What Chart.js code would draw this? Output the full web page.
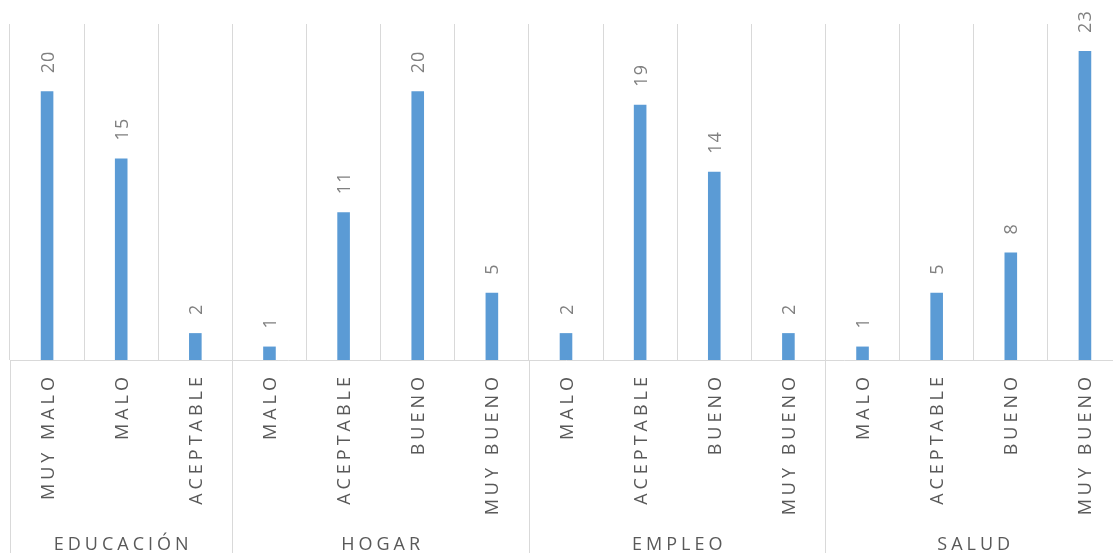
<!DOCTYPE html>
<html lang="es">
<head>
<meta charset="utf-8">
<title>Gráfico</title>
<script src="https://cdn.jsdelivr.net/npm/chart.js@4"></script>
<style>
  html, body { margin: 0; padding: 0; background: #fff; overflow: hidden; }
</style>
</head>
<body>
<canvas id="chart" width="1122" height="553"></canvas>
<script>
// -------------------------
// Datos
// -------------------------
const categorias = [
  "MUY MALO", "MALO", "ACEPTABLE",
  "MALO", "ACEPTABLE", "BUENO", "MUY BUENO",
  "MALO", "ACEPTABLE", "BUENO", "MUY BUENO",
  "MALO", "ACEPTABLE", "BUENO", "MUY BUENO"
];
const valores = [20, 15, 2, 1, 11, 20, 5, 2, 19, 14, 2, 1, 5, 8, 23];

// grupos (nombre y cuántas categorías abarca)
const grupos = ["EDUCACIÓN", "HOGAR", "EMPLEO", "SALUD"];
const tamanoGrupos = [3, 4, 4, 4];
// -------------------------

const colorTexto = "#595959";
const colorValor = "#808080";
const colorLinea = "#d9d9d9";
const fuente = "'Open Sans', 'Liberation Sans', sans-serif";

// etiquetas, valores y líneas de los grupos
const etiquetasPlugin = {
  id: "etiquetas",
  afterDraw(chart) {
    const ctx = chart.ctx;
    const x = chart.scales.x;
    const area = chart.chartArea;
    const ancho = x.getPixelForValue(1) - x.getPixelForValue(0);
    const meta = chart.getDatasetMeta(0);

    ctx.save();

    // valores encima de las barras
    ctx.fillStyle = colorValor;
    ctx.font = "18px " + fuente;
    ctx.letterSpacing = "1px";
    ctx.textAlign = "left";
    ctx.textBaseline = "alphabetic";
    meta.data.forEach((barra, i) => {
      ctx.save();
      ctx.translate(barra.x, barra.y - 18);
      ctx.rotate(-Math.PI / 2);
      ctx.fillText(String(valores[i]), 0, 6.5);
      ctx.restore();
    });

    // categorías giradas
    ctx.fillStyle = colorTexto;
    ctx.font = "18px " + fuente;
    ctx.letterSpacing = "4px";
    ctx.textAlign = "right";
    categorias.forEach((cat, i) => {
      ctx.save();
      ctx.translate(x.getPixelForValue(i), area.bottom + 17);
      ctx.rotate(-Math.PI / 2);
      ctx.fillText(cat, 4, 6.5);
      ctx.restore();
    });

    // grupos
    ctx.font = "18px " + fuente;
    ctx.letterSpacing = "4px";
    ctx.textAlign = "center";
    ctx.strokeStyle = colorLinea;
    ctx.lineWidth = 1;
    let inicio = 0;
    grupos.forEach((g, j) => {
      const fin = inicio + tamanoGrupos[j] - 1;
      const izq = x.getPixelForValue(inicio) - ancho / 2;
      const centro = (x.getPixelForValue(inicio) + x.getPixelForValue(fin)) / 2;
      const px = Math.round(izq) + 0.5;
      ctx.beginPath();
      ctx.moveTo(px, area.bottom);
      ctx.lineTo(px, chart.height);
      ctx.stroke();
      ctx.fillText(g, centro + 2, 550);
      inicio = fin + 1;
    });
    ctx.restore();
  }
};

const ctx = document.getElementById("chart").getContext("2d");
const chart = new Chart(ctx, {
  type: "bar",
  data: {
    labels: categorias,
    datasets: [
      {
        data: valores,
        backgroundColor: "#5b9bd5",
        categoryPercentage: 1,
        barPercentage: 0.17,
      },
    ],
  },
  options: {
    responsive: false,
    animation: false,
    layout: { padding: { left: 10, top: 24, right: 0, bottom: 193 } },
    plugins: {
      legend: { display: false },
      tooltip: { enabled: false },
    },
    scales: {
      x: {
        ticks: { display: false },
        grid: { offset: true, drawTicks: false, color: colorLinea },
        border: { display: true, color: colorLinea },
      },
      y: {
        display: false,
        min: 0,
        max: 25,
      },
    },
  },
  plugins: [etiquetasPlugin],
});
</script>
</body>
</html>
